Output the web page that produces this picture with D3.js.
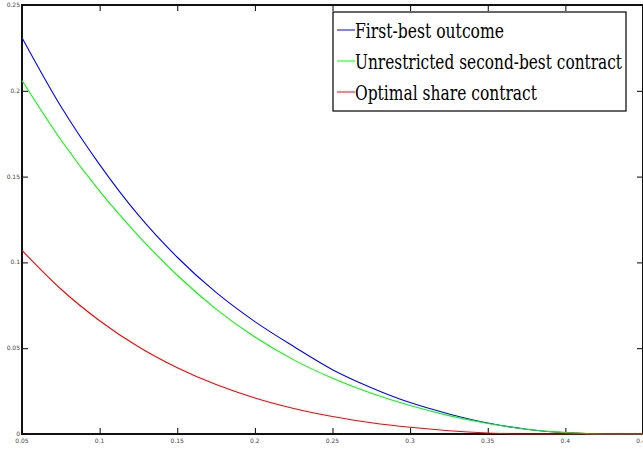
<!DOCTYPE html>
<html lang="en">
<head>
  <meta charset="UTF-8">
  <title>First-best vs second-best contracts</title>
  <style>
    body { margin: 0; padding: 0; background: #fff; }
    svg { display: block; }
    .tick-label { font-family: "DejaVu Sans", Arial, sans-serif; font-size: 6px; fill: #444; }
    .legend-text { font-family: "DejaVu Serif", serif; font-size: 21px; fill: #000; }
  </style>
  <script src="https://d3js.org/d3.v7.min.js"></script>
</head>
<body>
  <div id="chart"></div>
  <script>
    // x grid and series values
    const xValues = [0.05, 0.075, 0.1, 0.125, 0.15, 0.175, 0.2, 0.225, 0.25, 0.275, 0.3, 0.325, 0.35, 0.375, 0.4, 0.425, 0.45];
    const firstBest = [0.231, 0.191, 0.157, 0.1275, 0.103, 0.0825, 0.0655, 0.051, 0.0375, 0.027, 0.0183, 0.0117, 0.0064, 0.0028, 0.0008, 0, 0];
    const secondBest = [0.206, 0.1715, 0.1415, 0.1155, 0.0925, 0.0728, 0.0565, 0.0432, 0.0325, 0.0238, 0.0166, 0.0107, 0.0061, 0.0028, 0.0008, 0, 0];
    const shareContract = [0.107, 0.0845, 0.066, 0.0508, 0.0386, 0.0288, 0.021, 0.0149, 0.0102, 0.0066, 0.0039, 0.0019, 0.0006, 0, 0, 0, 0];

    const xTicks = [0.05, 0.1, 0.15, 0.2, 0.25, 0.3, 0.35, 0.4, 0.45];
    const yTicks = [0, 0.05, 0.1, 0.15, 0.2, 0.25];

    const seriesNames = ["First-best outcome", "Unrestricted second-best contract", "Optimal share contract"];
    const seriesValues = [firstBest, secondBest, shareContract];
    const seriesColors = ["#0000ff", "#00ff00", "#ff0000"];
    const legendWidths = [149, 267, 182];

    const width = 643, height = 450;
    const plotLeft = 22, plotRight = 643, plotTop = 5, plotBottom = 434;

    const svg = d3.select("#chart").append("svg")
      .attr("width", width)
      .attr("height", height);

    const x = d3.scaleLinear().domain([0.05, 0.45]).range([plotLeft, plotRight]);
    const y = d3.scaleLinear().domain([0, 0.25]).range([plotBottom, plotTop]);

    // ticks on all four sides, pointing inward
    const tickLen = 6;
    svg.append("g").call(d3.axisBottom(x).tickValues(xTicks).tickSize(-tickLen).tickFormat(""))
      .attr("transform", `translate(0,${plotBottom})`);
    svg.append("g").call(d3.axisTop(x).tickValues(xTicks).tickSize(-tickLen).tickFormat(""))
      .attr("transform", `translate(0,${plotTop})`);
    svg.append("g").call(d3.axisLeft(y).tickValues(yTicks).tickSize(-tickLen).tickFormat(""))
      .attr("transform", `translate(${plotLeft},0)`);
    svg.append("g").call(d3.axisRight(y).tickValues(yTicks).tickSize(-tickLen).tickFormat(""))
      .attr("transform", `translate(${plotRight},0)`);
    svg.selectAll(".domain").remove();
    svg.selectAll(".tick line").attr("stroke", "#000").attr("stroke-width", 1);

    // frame
    svg.append("rect")
      .attr("x", plotLeft).attr("y", plotTop)
      .attr("width", plotRight - plotLeft).attr("height", plotBottom - plotTop)
      .attr("fill", "none")
      .attr("stroke", "#111")
      .attr("stroke-width", 2);

    // tick labels
    svg.selectAll(".xlab")
      .data(xTicks)
      .enter().append("text")
      .attr("class", "tick-label")
      .attr("x", d => x(d))
      .attr("y", plotBottom + 9)
      .attr("text-anchor", "middle")
      .text(d => d);

    svg.selectAll(".ylab")
      .data(yTicks)
      .enter().append("text")
      .attr("class", "tick-label")
      .attr("x", plotLeft - 2)
      .attr("y", d => y(d) + 2)
      .attr("text-anchor", "end")
      .text(d => d);

    // curves
    const line = d3.line()
      .x((d, i) => x(xValues[i]))
      .y(d => y(d))
      .curve(d3.curveMonotoneX);

    seriesValues.forEach((vals, i) => {
      svg.append("path")
        .datum(vals)
        .attr("fill", "none")
        .attr("stroke", seriesColors[i])
        .attr("stroke-width", 1.1)
        .attr("d", line);
    });

    // legend
    const legend = svg.append("g").attr("transform", "translate(333,12)");
    legend.append("rect")
      .attr("width", 293).attr("height", 99)
      .attr("fill", "#fff")
      .attr("stroke", "#000")
      .attr("stroke-width", 1.2);

    seriesNames.forEach((name, i) => {
      const rowY = 18 + i * 31;
      legend.append("line")
        .attr("x1", 4).attr("x2", 22)
        .attr("y1", rowY).attr("y2", rowY)
        .attr("stroke", seriesColors[i])
        .attr("stroke-width", 1);
      legend.append("text")
        .attr("class", "legend-text")
        .attr("x", 22)
        .attr("y", rowY + 8)
        .attr("textLength", legendWidths[i])
        .attr("lengthAdjust", "spacingAndGlyphs")
        .text(name);
    });
  </script>
</body>
</html>
